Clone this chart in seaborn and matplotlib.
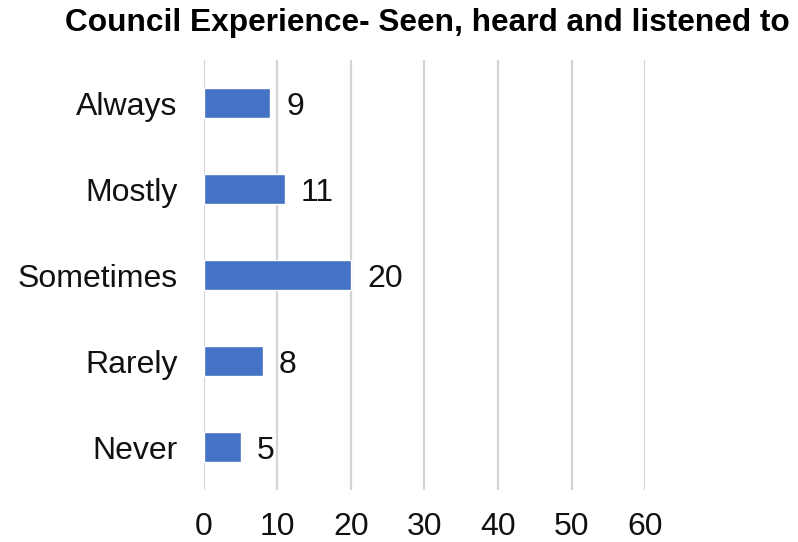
import matplotlib
matplotlib.use("Agg")
import matplotlib.pyplot as plt
import seaborn as sns
import pandas as pd

categories = ["Always", "Mostly", "Sometimes", "Rarely", "Never"]
counts = [9, 11, 20, 8, 5]
x_ticks = [0, 10, 20, 30, 40, 50, 60]

sns.set_theme(style="white")
plt.rcParams["font.family"] = ["Liberation Sans", "DejaVu Sans"]

df = pd.DataFrame({"category": categories, "count": counts})

fig = plt.figure(figsize=(7.98, 5.42), dpi=100)
ax = fig.add_axes([0.2556, 0.0959, 0.5527, 0.7934])

sns.barplot(data=df, y="category", x="count", orient="h", color="#4472C4",
            saturation=1, width=0.35, ax=ax, order=categories)

ax.set_xlim(0, 60)
ax.set_ylim(4.5, -0.5)
ax.set_xticks(x_ticks)
ax.set_xticklabels([str(t) for t in x_ticks])
ax.set_xlabel("")
ax.set_ylabel("")

ax.grid(axis="x", color="#d4d4d4", linewidth=1.6)
ax.grid(axis="y", visible=False)
ax.set_axisbelow(True)
for s in ax.spines.values():
    s.set_visible(False)

label_size = 23
ax.tick_params(axis="x", length=0, pad=15.5, labelsize=label_size, labelcolor="#111111")
ax.tick_params(axis="y", length=0, pad=19, labelsize=label_size, labelcolor="#111111")

# value labels: baseline placed so the digits sit centred on each bar
for i, v in enumerate(counts):
    ax.text(v + 2.2, i + 0.134, str(v), va="baseline", ha="left",
            fontsize=label_size, color="#111111")

fig.text(0.535, 0.957, "Council Experience- Seen, heard and listened to",
         ha="center", va="center", fontsize=22.8, fontweight="bold",
         color="#000000")

fig.savefig("out.png", dpi=100)
